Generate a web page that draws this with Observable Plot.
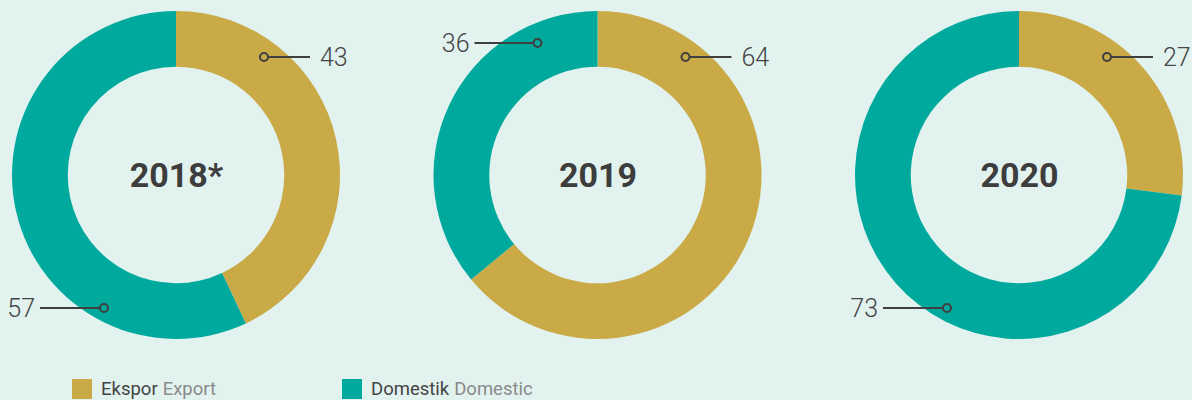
<!DOCTYPE html>
<html><head><meta charset="utf-8">
<script src="https://cdn.jsdelivr.net/npm/d3@7"></script>
<script src="https://cdn.jsdelivr.net/npm/@observablehq/plot@0.6"></script>
<style>
html,body{margin:0;padding:0;background:#e2f2ef;width:1192px;height:400px;overflow:hidden;font-family:Roboto,"Noto Sans",sans-serif;}
#legend{display:flex;position:absolute;left:72px;top:378px;font-size:18.5px;color:#444;}
.item{display:flex;align-items:center;margin-right:0;}
.sw{width:20px;height:20px;margin-right:9px;}
.en{color:#8a8a8a;margin-left:5px;}
</style></head>
<body><div id="chart"></div>
<div id="legend"></div>
<script>
const years = ["2018*", "2019", "2020"];
const exportShare = [43, 64, 27];
const domesticShare = [57, 36, 73];
const seriesNames = ["Ekspor", "Domestik"];
const seriesNamesEn = ["Export", "Domestic"];
const colors = ["#c9aa47", "#00a99d"];

const slices = [];
years.forEach((y, i) => {
  slices.push({i, year: y, series: 0, value: exportShare[i]});
  slices.push({i, year: y, series: 1, value: domesticShare[i]});
});

function donuts(...args) {
  const scales = args.find(a => a && typeof a.x === "function");
  const {x, y} = scales;
  const g = d3.create("svg:g");
  const r = (y(-1) - y(1)) / 2;
  const ri = r * 0.66;
  const arc = d3.arc().innerRadius(ri).outerRadius(r);
  years.forEach((yr, i) => {
    const data = slices.filter(s => s.i === i);
    const pie = d3.pie().sort(null).value(d => d.value)(data);
    const cg = g.append("g").attr("transform", `translate(${x(i)},${y(0)})`);
    cg.selectAll("path").data(pie).join("path")
      .attr("d", arc).attr("fill", d => colors[d.data.series]);
    pie.forEach(p => {
      const mid = 36.7 * Math.PI / 180;
      let cx, cy, lx, tx, anchor;
      if (p.startAngle <= mid && p.endAngle >= mid) {
        cx = 88; cy = -118; lx = 134; tx = 144; anchor = "start";
      } else {
        const a2 = 208 * Math.PI / 180;
        if (p.startAngle <= a2 && p.endAngle >= a2) {
          cx = -72; cy = 133; lx = -136; tx = -141; anchor = "end";
        } else {
          cx = -60; cy = -132; lx = -123; tx = -128; anchor = "end";
        }
      }
      cg.append("line").attr("x1", cx + (lx > cx ? 4 : -4)).attr("x2", lx)
        .attr("y1", cy).attr("y2", cy).attr("stroke", "#3f3f3f").attr("stroke-width", 2);
      cg.append("circle").attr("cx", cx).attr("cy", cy).attr("r", 4)
        .attr("fill", "none").attr("stroke", "#3f3f3f").attr("stroke-width", 2);
      cg.append("text").attr("x", tx).attr("y", cy).attr("dy", "0.36em")
        .attr("text-anchor", anchor).attr("fill", "#444")
        .attr("font-size", 25).attr("font-weight", 300)
        .attr("font-family", "Roboto, sans-serif").text(p.data.value);
    });
  });
  return g.node();
}

const plot = Plot.plot({
  width: 1192, height: 365,
  marginLeft: 176, marginRight: 173, marginTop: 11, marginBottom: 26,
  x: {domain: [0, 2], axis: null},
  y: {domain: [-1, 1], axis: null},
  style: {background: "transparent", overflow: "visible"},
  marks: [
    donuts,
    Plot.text(years, {x: (d, i) => i, y: () => 0, dy: 1, text: d => d, fontSize: 34, fontWeight: 700,
      fill: "#3d3d3d", fontFamily: "Roboto, sans-serif"})
  ]
});
document.getElementById("chart").appendChild(plot);

const leg = document.getElementById("legend");
seriesNames.forEach((n, k) => {
  const it = document.createElement("div");
  it.className = "item";
  it.style.width = k === 0 ? "270px" : "auto";
  it.innerHTML = `<div class="sw" style="background:${colors[k]}"></div><span>${n}</span><span class="en">${seriesNamesEn[k]}</span>`;
  leg.appendChild(it);
});
</script></body></html>
